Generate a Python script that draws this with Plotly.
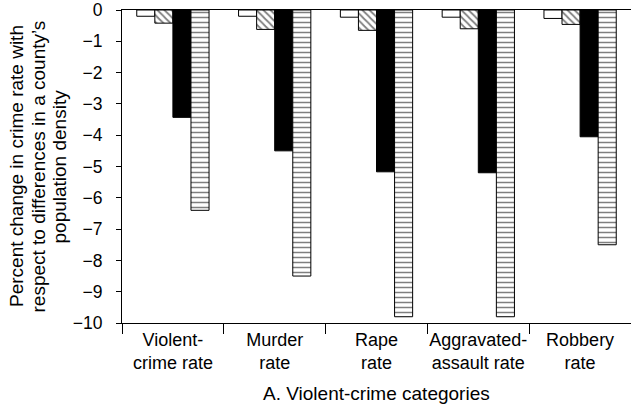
import plotly.graph_objects as go

categories = ["Violent-<br>crime rate", "Murder<br>rate", "Rape<br>rate",
              "Aggravated-<br>assault rate", "Robbery<br>rate"]
series_a = [-0.20, -0.20, -0.23, -0.23, -0.27]
series_b = [-0.42, -0.62, -0.65, -0.60, -0.46]
series_c = [-3.43, -4.50, -5.17, -5.20, -4.05]
series_d = [-6.40, -8.50, -9.80, -9.80, -7.50]
y_ticks = list(range(0, -11, -1))
y_title_lines = ["Percent change in crime rate with",
                 "respect to differences in a county\u2019s",
                 "population density"]
x_title = "A. Violent-crime categories"

FONT = "Liberation Sans, Arial, sans-serif"
L, R, T, B = 122, 0, 10, 90
W, H = 631, 413
PW = W - L - R
PH = H - T - B

fig = go.Figure()
fig.add_trace(go.Bar(x=categories, y=series_a,
                     marker=dict(color="white", line=dict(color="black", width=1))))
fig.add_trace(go.Bar(x=categories, y=series_b,
                     marker=dict(color="white", line=dict(color="black", width=1),
                                 pattern=dict(shape="\\", fgcolor="black", bgcolor="white",
                                              size=5, solidity=0.35))))
fig.add_trace(go.Bar(x=categories, y=series_c,
                     marker=dict(color="black", line=dict(color="black", width=1))))
fig.add_trace(go.Bar(x=categories, y=series_d,
                     marker=dict(color="white", line=dict(color="black", width=1),
                                 pattern=dict(shape="-", fgcolor="black", bgcolor="white",
                                              size=5, solidity=0.3))))

annotations = []
for px_center, line in zip([16.5, 38, 59], y_title_lines):
    annotations.append(dict(text=line, xref="paper", yref="paper",
                            x=(px_center - L) / PW, y=0.5, xanchor="center", yanchor="middle",
                            textangle=-90, showarrow=False, font=dict(size=19)))
annotations.append(dict(text=x_title, xref="paper", yref="paper",
                        x=0.5, y=-(393 - (T + PH)) / PH, xanchor="center", yanchor="middle",
                        showarrow=False, font=dict(size=19)))

fig.update_layout(
    width=W, height=H,
    margin=dict(l=L, r=R, t=T, b=B, autoexpand=False),
    paper_bgcolor="white", plot_bgcolor="white",
    barmode="group", bargap=0.29, bargroupgap=0,
    showlegend=False,
    font=dict(family=FONT, size=18, color="black"),
    xaxis=dict(showline=True, linecolor="black", linewidth=1, mirror=True,
               ticks="outside", tickson="boundaries", ticklen=10, tickcolor="black",
               tickangle=0, showgrid=False, zeroline=False, automargin=False,
               tickfont=dict(size=18)),
    yaxis=dict(range=[-10, 0], tickvals=y_ticks, showline=True, linecolor="black",
               linewidth=1, ticks="outside", ticklen=5, tickcolor="black",
               showgrid=False, zeroline=False, automargin=False,
               ticklabelstandoff=10, tickfont=dict(size=17.5)),
    annotations=annotations,
)

fig.write_html("out.html", config={"displayModeBar": False},
               post_script="document.body.style.margin='0';document.body.style.padding='0';")
